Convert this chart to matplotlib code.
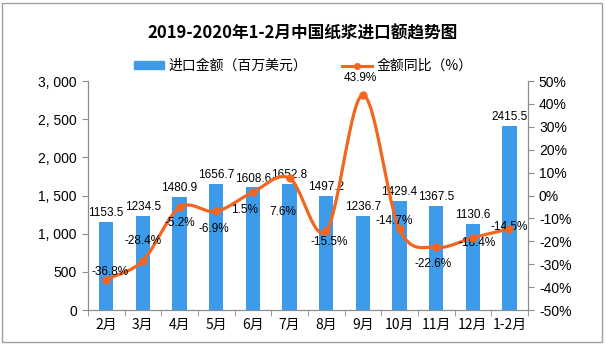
import matplotlib
matplotlib.use("Agg")
import matplotlib.pyplot as plt
import numpy as np
from matplotlib.lines import Line2D
from matplotlib.patches import Patch, Rectangle

plt.rcParams["font.family"] = ["Noto Sans CJK SC", "DejaVu Sans"]

# ── Data ─────────────────────────────────────────────────────────────────────
months = ["2月", "3月", "4月", "5月", "6月", "7月", "8月", "9月", "10月", "11月", "12月", "1-2月"]
import_value = [1153.5, 1234.5, 1480.9, 1656.7, 1608.6, 1652.8, 1497.2, 1236.7, 1429.4, 1367.5, 1130.6, 2415.5]
yoy_pct = [-36.8, -28.4, -5.2, -6.9, 1.5, 7.6, -15.5, 43.9, -14.7, -22.6, -18.4, -14.5]
left_ticks = [0, 500, 1000, 1500, 2000, 2500, 3000]
left_ticklabels = ["0", "500", "1, 000", "1, 500", "2, 000", "2, 500", "3, 000"]
right_ticks = [-50, -40, -30, -20, -10, 0, 10, 20, 30, 40, 50]

# label offsets (points) for the percentage labels
pct_offsets = [(3, 6), (0, 14), (0, -11), (-2, -13), (-6, -13), (-5, -24),
               (2, -8), (-2, 12), (-4, 6), (-2, -12), (3, -4), (0, 1)]

BLUE = "#3d9bea"
ORANGE = "#f4651f"
GREY = "#8c8c8c"


def catmull_rom(x, y, n=30):
    """Smooth curve through the points (drawing only, like Excel's smoothed line)."""
    px = np.concatenate([[2 * x[0] - x[1]], x, [2 * x[-1] - x[-2]]])
    py = np.concatenate([[2 * y[0] - y[1]], y, [2 * y[-1] - y[-2]]])
    xs, ys = [], []
    t = np.linspace(0, 1, n, endpoint=False)
    for i in range(1, len(px) - 2):
        for arr, out in ((px, xs), (py, ys)):
            p0, p1, p2, p3 = arr[i - 1], arr[i], arr[i + 1], arr[i + 2]
            m1 = (p2 - p0) / 2
            m2 = (p3 - p1) / 2
            h00 = 2 * t**3 - 3 * t**2 + 1
            h10 = t**3 - 2 * t**2 + t
            h01 = -2 * t**3 + 3 * t**2
            h11 = t**3 - t**2
            out.extend(h00 * p1 + h10 * m1 + h01 * p2 + h11 * m2)
    xs.append(x[-1])
    ys.append(y[-1])
    return np.array(xs), np.array(ys)


fig = plt.figure(figsize=(6.06, 3.48), dpi=100)
ax = fig.add_axes([0.145, 0.109, 0.726, 0.658])
ax2 = ax.twinx()

x = np.arange(len(months))
ax.bar(x, import_value, width=0.39, color=BLUE, zorder=2)
for xi, v in zip(x, import_value):
    ax.annotate(f"{v:.1f}", (xi, v), xytext=(0, 2), textcoords="offset points",
                ha="center", va="bottom", fontsize=8.5, family="Liberation Sans")

ax.set_xlim(-0.5, len(months) - 0.5)
ax.set_ylim(0, 3000)
ax.set_yticks(left_ticks)
ax.set_yticklabels(left_ticklabels, fontsize=10, family="Liberation Sans")
ax.set_xticks(x)
ax.set_xticklabels(months, fontsize=10)
ax.set_xticks(np.arange(-0.5, len(months), 1), minor=True)
ax.tick_params(axis="x", which="major", length=0, pad=6)
ax.tick_params(axis="x", which="minor", length=4, color=GREY)
ax.tick_params(axis="y", length=4, color=GREY, pad=4)

sx, sy = catmull_rom(x.astype(float), np.array(yoy_pct, dtype=float))
ax2.plot(sx, sy, color=ORANGE, linewidth=2.3, zorder=3)
ax2.plot(x, yoy_pct, "o", color=ORANGE, markersize=5, zorder=4)
for xi, v, off in zip(x, yoy_pct, pct_offsets):
    ax2.annotate(f"{v:.1f}%", (xi, v), xytext=off, textcoords="offset points",
                 ha="center", va="center", fontsize=8.5, family="Liberation Sans")
ax2.set_ylim(-50, 50)
ax2.set_yticks(right_ticks)
ax2.set_yticklabels([f"{t}%" for t in right_ticks], fontsize=10, family="Liberation Sans")
ax2.tick_params(axis="y", length=4, color=GREY, pad=4)

for a in (ax, ax2):
    a.spines["top"].set_visible(False)
    for s in ("left", "right", "bottom"):
        a.spines[s].set_color(GREY)
        a.spines[s].set_linewidth(0.8)
ax.set_zorder(ax2.get_zorder() - 1)
ax2.patch.set_visible(False)
ax.patch.set_visible(False)

fig.text(0.5, 0.905, "2019-2020年1-2月中国纸浆进口额趋势图", ha="center", va="center",
         fontsize=12, fontweight="bold")

handles = [Patch(color=BLUE), Line2D([], [], color=ORANGE, marker="o", markersize=4, linewidth=2.2)]
fig.legend(handles, ["进口金额（百万美元）", "金额同比（%）"], loc="center",
           bbox_to_anchor=(0.5, 0.81), ncol=2, frameon=False, fontsize=10,
           handlelength=2.2, handleheight=0.5, columnspacing=2.5, handletextpad=0.3)

fig.patches.append(Rectangle((0.004, 0.017), 0.99, 0.975, transform=fig.transFigure,
                             fill=False, edgecolor="#a0a0a0", linewidth=1))

fig.savefig("out.png", dpi=100)
